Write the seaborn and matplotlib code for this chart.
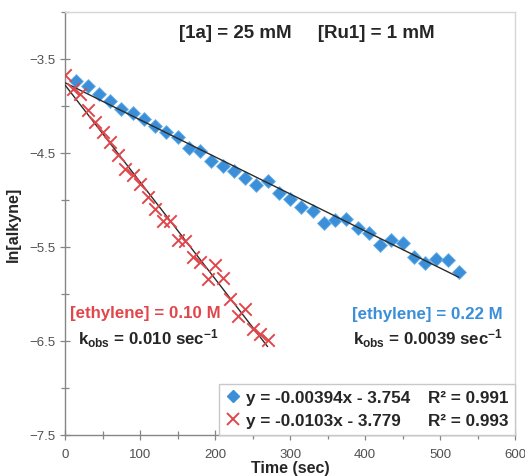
import matplotlib
matplotlib.use('Agg')
import matplotlib.pyplot as plt
import numpy as np
import pandas as pd
import seaborn as sns
from matplotlib.lines import Line2D
from matplotlib.ticker import MultipleLocator

# [ethylene] = 0.22 M run (blue diamonds)
t_high = [15, 30, 45, 60, 75, 90, 105, 120, 135, 150, 165, 180, 195, 210, 225,
          240, 255, 270, 285, 300, 315, 330, 345, 360, 375, 390, 405, 420, 435,
          450, 465, 480, 495, 510, 525]
ln_high = [-3.732, -3.786, -3.873, -3.949, -4.036, -4.080, -4.144, -4.209,
           -4.274, -4.328, -4.447, -4.479, -4.588, -4.642, -4.695, -4.762,
           -4.837, -4.794, -4.924, -4.989, -5.075, -5.118, -5.248, -5.215,
           -5.206, -5.303, -5.347, -5.476, -5.421, -5.454, -5.606, -5.671,
           -5.627, -5.638, -5.768]

# [ethylene] = 0.10 M run (red crosses)
t_low = [0, 10, 20, 30, 40, 50, 60, 70, 80, 90, 100, 110, 120, 130, 140, 150,
         160, 170, 180, 190, 200, 210, 220, 230, 240, 250, 260, 270]
ln_low = [-3.667, -3.820, -3.873, -4.047, -4.166, -4.273, -4.382, -4.523,
          -4.675, -4.740, -4.826, -4.967, -5.097, -5.227, -5.228, -5.423,
          -5.434, -5.606, -5.660, -5.844, -5.693, -5.834, -6.050, -6.235,
          -6.159, -6.376, -6.430, -6.495]

# linear fits shown in the legend
fit_high = (-0.00394, -3.754, 0.991)
fit_low = (-0.0103, -3.779, 0.993)

BLUE = '#3b8fd9'
RED = '#e0474c'

sns.set_style('white')
plt.rcParams['font.family'] = ['Liberation Sans', 'DejaVu Sans']
plt.rcParams['mathtext.fontset'] = 'custom'
plt.rcParams['mathtext.rm'] = 'Liberation Sans:bold'
plt.rcParams['mathtext.bf'] = 'Liberation Sans:bold'
plt.rcParams['mathtext.it'] = 'Liberation Sans:bold'

df_high = pd.DataFrame({'t': t_high, 'ln': ln_high})
df_low = pd.DataFrame({'t': t_low, 'ln': ln_low})

fig = plt.figure(figsize=(5.25, 4.77), dpi=100)
ax = fig.add_axes([0.124, 0.086, 0.857, 0.887])

# fitted lines
for fit, tmax in ((fit_high, max(t_high)), (fit_low, max(t_low))):
    xs = np.array([0, tmax])
    ax.plot(xs, fit[0] * xs + fit[1], color='#2b2b2b', lw=1.0, zorder=3)

sns.scatterplot(data=df_high, x='t', y='ln', marker='D', s=50, color=BLUE,
                edgecolor='#6fb3ea', linewidth=0.6, ax=ax, zorder=2)
sns.scatterplot(data=df_low, x='t', y='ln', marker='x', s=80, color=RED,
                linewidth=1.4, ax=ax, zorder=4)

ax.set_xlim(0, 600)
ax.set_ylim(-7.5, -3.0)
ax.xaxis.set_major_locator(MultipleLocator(100))
ax.xaxis.set_minor_locator(MultipleLocator(50))
ax.set_yticks([-7.5, -6.5, -5.5, -4.5, -3.5])
ax.yaxis.set_minor_locator(MultipleLocator(0.5))
ax.tick_params(which='both', direction='inout', color='#868686',
               labelcolor='#505050', labelsize=9.5, bottom=True, left=True)
ax.tick_params(which='major', length=7, width=0.9)
ax.tick_params(which='minor', length=6, width=0.9)
ax.tick_params(axis='x', pad=6)

for side in ('left', 'bottom'):
    ax.spines[side].set_color('#868686')
    ax.spines[side].set_linewidth(1.0)
for side in ('top', 'right'):
    ax.spines[side].set_color('#d6d6d6')
    ax.spines[side].set_linewidth(1.0)

ax.set_xlabel('Time (sec)', fontsize=11.5, fontweight='bold', labelpad=0)
ax.set_ylabel('ln[alkyne]', fontsize=11.5, fontweight='bold', labelpad=6)

ax.text(323, -3.22, '[1a] = 25 mM     [Ru1] = 1 mM', fontsize=13.5,
        fontweight='bold', ha='center', va='center')
ax.text(7, -6.20, '[ethylene] = 0.10 M', fontsize=12.2, fontweight='bold',
        color=RED, ha='left', va='center')
ax.text(17, -6.47, r'k$_{\mathrm{obs}}$ = 0.010 sec$^{\mathrm{-1}}$',
        fontsize=12.2, fontweight='bold', ha='left', va='center')
ax.text(584, -6.21, '[ethylene] = 0.22 M', fontsize=12.2, fontweight='bold',
        color=BLUE, ha='right', va='center')
ax.text(584, -6.47, r'k$_{\mathrm{obs}}$ = 0.0039 sec$^{\mathrm{-1}}$',
        fontsize=12.2, fontweight='bold', ha='right', va='center')

# legend: equations column and R² column
h_high = Line2D([], [], marker='D', ls='none', color=BLUE, markersize=6)
h_low = Line2D([], [], marker='x', ls='none', color=RED, markersize=9,
               markeredgewidth=1.4)
blank = Line2D([], [], ls='none')
labels = ['y = %.5fx - %.3f' % (fit_high[0], -fit_high[1]),
          'y = %.4fx - %.3f' % (fit_low[0], -fit_low[1]),
          'R² = %.3f' % fit_high[2], 'R² = %.3f' % fit_low[2]]
leg = ax.legend([h_high, h_low, blank, blank], labels, ncol=2,
                loc='lower right', bbox_to_anchor=(1.0, 0.0),
                borderaxespad=0, fancybox=False, framealpha=1,
                edgecolor='#c8c8c8', handlelength=0.8, handletextpad=0.4,
                columnspacing=-0.2, labelspacing=0.45, borderpad=0.4,
                prop={'weight': 'bold', 'size': 12.3})
leg.get_frame().set_linewidth(1.0)

fig.savefig('out.png', dpi=100)
